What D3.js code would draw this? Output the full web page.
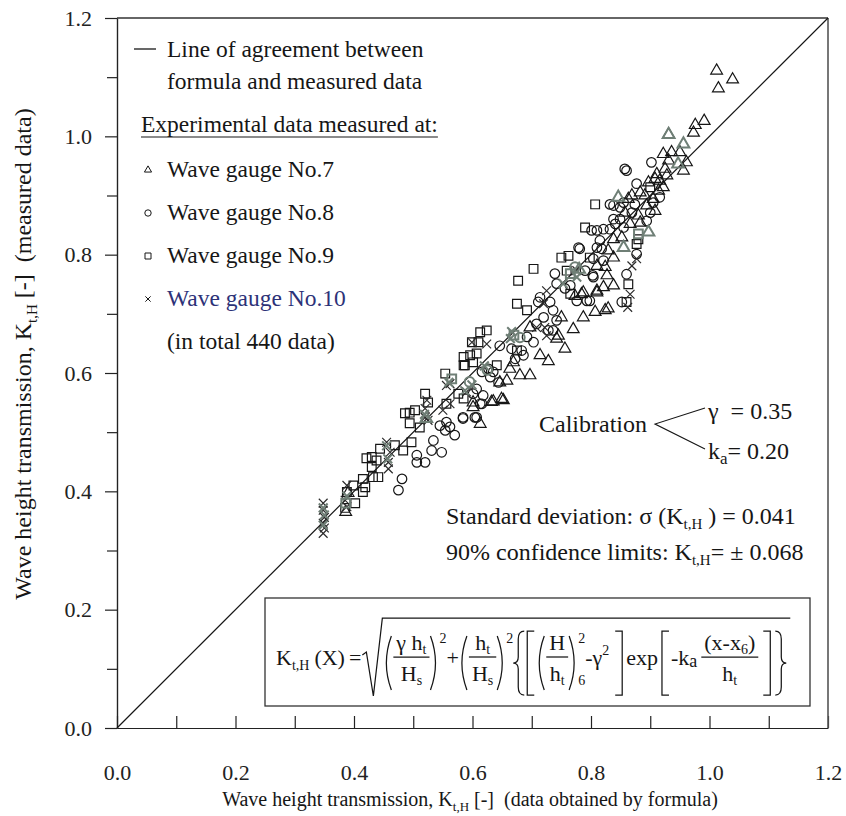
<html>
<head>
    <script src="https://cdnjs.cloudflare.com/ajax/libs/d3/7.8.5/d3.min.js"></script>
    <style>
        body { margin: 0; background: white; }
    </style>
</head>
<body>
<svg id="chart"></svg>
<script>
    // values (x = formula, y = measured)
    let majorTicks = [0.0, 0.2, 0.4, 0.6, 0.8, 1.0, 1.2];
    let minorTicks = [0.1, 0.3, 0.5, 0.7, 0.9, 1.1];

    let gauge7 = [
        [1.012,1.111],[1.039,1.096],[1.015,1.081],[0.991,1.026],[0.976,1.019],[0.973,1.006],[0.931,1.003],
        [0.922,0.970],[0.936,0.973],[0.950,0.973],[0.931,0.959],[0.961,0.956],[0.956,0.942],[0.925,0.945],
        [0.911,0.936],[0.908,0.928],[0.916,0.925],[0.928,0.934],[0.897,0.922],[0.922,0.914],[0.914,0.908],
        [0.905,0.894],[0.891,0.900],[0.883,0.905],[0.869,0.900],[0.863,0.894],[0.894,0.883],[0.908,0.874],
        [0.880,0.866],[0.857,0.871],[0.866,0.852],[0.883,0.854],[0.838,0.826],[0.852,0.829],[0.829,0.807],
        [0.838,0.795],[0.810,0.781],[0.824,0.779],[0.827,0.765],[0.838,0.748],[0.821,0.745],[0.810,0.739],
        [0.784,0.733],[0.773,0.730],[0.829,0.709],[0.787,0.736],[0.810,0.736],[0.750,0.694],[0.787,0.694],
        [0.807,0.703],[0.824,0.706],[0.770,0.674],[0.745,0.663],[0.697,0.677],[0.742,0.658],[0.756,0.641],
        [0.714,0.630],[0.728,0.620],[0.669,0.618],[0.663,0.607],[0.680,0.596],[0.697,0.596],[0.658,0.587],
        [0.635,0.552],[0.649,0.556],[0.601,0.542],[0.613,0.514],[0.632,0.551],[0.652,0.554],[0.646,0.584],
        [0.601,0.550],[0.390,0.397],[0.386,0.365]
    ];
    let gauge8 = [
        [0.902,0.956],[0.860,0.942],[0.857,0.945],[0.877,0.920],[0.916,0.897],[0.855,0.888],[0.838,0.883],
        [0.874,0.885],[0.905,0.888],[0.900,0.871],[0.869,0.871],[0.849,0.860],[0.838,0.860],[0.841,0.852],
        [0.894,0.857],[0.855,0.846],[0.832,0.843],[0.821,0.843],[0.810,0.841],[0.815,0.824],[0.801,0.841],
        [0.832,0.885],[0.849,0.880],[0.781,0.810],[0.818,0.810],[0.877,0.801],[0.821,0.790],[0.804,0.793],
        [0.804,0.762],[0.790,0.773],[0.860,0.767],[0.798,0.722],[0.852,0.720],[0.779,0.812],[0.810,0.812],
        [0.739,0.768],[0.742,0.751],[0.756,0.743],[0.765,0.748],[0.803,0.765],[0.793,0.722],[0.776,0.722],
        [0.714,0.728],[0.711,0.720],[0.731,0.720],[0.736,0.706],[0.736,0.672],[0.692,0.661],[0.703,0.652],
        [0.708,0.683],[0.720,0.694],[0.728,0.672],[0.742,0.689],[0.666,0.641],[0.686,0.630],[0.672,0.624],
        [0.683,0.638],[0.644,0.584],[0.630,0.593],[0.627,0.607],[0.646,0.646],[0.635,0.602],[0.616,0.602],
        [0.607,0.573],[0.618,0.562],[0.613,0.548],[0.584,0.525],[0.607,0.525],[0.601,0.565],[0.604,0.525],
        [0.616,0.548],[0.556,0.517],[0.545,0.511],[0.554,0.503],[0.562,0.509],[0.570,0.495],[0.584,0.523],
        [0.534,0.486],[0.531,0.469],[0.548,0.466],[0.506,0.461],[0.506,0.449],[0.520,0.449],[0.481,0.421],
        [0.475,0.402]
    ];
    let gauge9 = [
        [0.807,0.885],[0.790,0.846],[0.762,0.798],[0.759,0.773],[0.880,0.826],[0.877,0.818],[0.863,0.750],
        [0.860,0.720],[0.900,0.914],[0.750,0.795],[0.798,0.795],[0.703,0.776],[0.677,0.756],[0.765,0.734],
        [0.675,0.717],[0.692,0.706],[0.675,0.638],[0.641,0.613],[0.613,0.669],[0.624,0.672],[0.599,0.652],
        [0.610,0.652],[0.585,0.627],[0.596,0.630],[0.587,0.613],[0.607,0.633],[0.554,0.599],[0.585,0.613],
        [0.601,0.618],[0.576,0.565],[0.585,0.557],[0.520,0.565],[0.525,0.550],[0.486,0.532],[0.494,0.533],
        [0.503,0.537],[0.494,0.515],[0.511,0.508],[0.556,0.548],[0.444,0.472],[0.469,0.478],[0.483,0.469],
        [0.497,0.483],[0.421,0.456],[0.430,0.458],[0.438,0.452],[0.430,0.441],[0.441,0.424],[0.432,0.424],
        [0.415,0.421],[0.419,0.407],[0.415,0.399],[0.388,0.399],[0.402,0.380],[0.399,0.410],[0.385,0.372]
    ];
    let gauge10 = [
        [0.348,0.380],[0.348,0.368],[0.350,0.356],[0.348,0.346],[0.350,0.338],[0.348,0.329],
        [0.388,0.410],[0.385,0.385],[0.388,0.374],[0.455,0.483],[0.461,0.466],[0.458,0.449],[0.458,0.438],
        [0.520,0.525],[0.525,0.520],[0.523,0.554],[0.520,0.540],[0.550,0.537],[0.562,0.582],[0.562,0.548],
        [0.556,0.579],[0.590,0.568],[0.599,0.652],[0.624,0.649],[0.725,0.739],[0.720,0.717],[0.708,0.677],
        [0.722,0.677],[0.725,0.663],[0.776,0.773],[0.877,0.793],[0.869,0.781],[0.866,0.733],[0.862,0.711]
    ];
    // points where markers of several gauges pile up (greyish blobs in the scan): [x, y, gauge index]
    let overlap = [
        [0.348,0.372,3],[0.350,0.360,3],[0.348,0.343,3],[0.388,0.392,3],[0.386,0.380,2],[0.455,0.477,3],
        [0.457,0.455,3],[0.519,0.530,3],[0.522,0.523,0],[0.560,0.584,3],[0.565,0.590,2],[0.599,0.580,3],
        [0.595,0.585,1],[0.587,0.570,3],[0.664,0.658,3],[0.670,0.664,2],[0.680,0.660,1],[0.666,0.670,3],
        [0.753,0.751,3],[0.765,0.768,2],[0.776,0.762,3],[0.773,0.779,1],[0.780,0.775,0],[0.855,0.812,0],
        [0.880,0.835,2],[0.897,0.838,0],[0.846,0.897,0],[0.931,1.003,0],[0.956,0.987,0],[0.947,0.953,0],
        [0.620,0.612,3],[0.625,0.605,1]
    ];

    let gauges = [gauge7, gauge8, gauge9, gauge10];
    let gaugeNames = ["Wave gauge No.7", "Wave gauge No.8", "Wave gauge No.9", "Wave gauge No.10"];

    let serif = "Liberation Serif";
    let width = 846, height = 816;
    let svg = d3.select("#chart").attr("width", width).attr("height", height)
        .attr("font-family", serif);

    let xScale = d3.scaleLinear().domain([0, 1.2]).range([117, 828]);
    let yScale = d3.scaleLinear().domain([0, 1.2]).range([728, 18]);

    let symbolTypes = [d3.symbolTriangle, d3.symbolCircle, d3.symbolSquare, d3.symbolX];
    let symbolSizes = [60, 72, 76, 52];
    let legendSizes = [22, 32, 36, 20];
    let ink = "#161616";

    // ---------- axes ----------
    let fmt = d3.format(".1f");
    svg.append("g")
        .attr("transform", `translate(0,${yScale(0)})`)
        .call(d3.axisBottom(xScale)
            .tickValues(majorTicks.concat(minorTicks))
            .tickSizeInner(-12).tickSizeOuter(0).tickPadding(36)
            .tickFormat(d => majorTicks.includes(d) ? fmt(d) : ""));

    svg.append("g")
        .attr("transform", `translate(${xScale(0)},0)`)
        .call(d3.axisLeft(yScale).tickValues(majorTicks)
            .tickSizeInner(12).tickSizeOuter(0).tickPadding(13).tickFormat(fmt));
    svg.append("g")
        .attr("transform", `translate(${xScale(0)},0)`)
        .call(d3.axisLeft(yScale).tickValues(minorTicks)
            .tickSizeInner(10).tickSizeOuter(0).tickFormat(""));

    svg.selectAll("g").attr("font-family", serif);
    svg.selectAll(".tick text")
        .attr("font-size", 22)
        .attr("fill", "#222");
    svg.selectAll(".tick line, .domain").attr("stroke", "#222").attr("stroke-width", 1.2);

    // frame top and right
    svg.append("line")
        .attr("x1", xScale(0)).attr("x2", xScale(1.2))
        .attr("y1", yScale(1.2)).attr("y2", yScale(1.2))
        .attr("stroke", "#333").attr("stroke-width", 1.3);
    svg.append("line")
        .attr("x1", xScale(1.2)).attr("x2", xScale(1.2))
        .attr("y1", yScale(1.2)).attr("y2", yScale(0))
        .attr("stroke", "#555").attr("stroke-width", 1.6);

    // line of agreement
    svg.append("line")
        .attr("x1", xScale(0)).attr("y1", yScale(0))
        .attr("x2", xScale(1.2)).attr("y2", yScale(1.2))
        .attr("stroke", ink).attr("stroke-width", 1.2);

    // ---------- markers ----------
    let marks = svg.append("g");
    gauges.forEach((pts, gi) => {
        marks.selectAll(".g" + gi)
            .data(pts)
            .enter().append("path")
            .attr("class", "g" + gi)
            .attr("d", d3.symbol().type(symbolTypes[gi]).size(symbolSizes[gi]))
            .attr("transform", d => `translate(${xScale(d[0])},${yScale(d[1])})`)
            .attr("fill", "none")
            .attr("stroke", gi == 3 ? "#2b2b2b" : ink)
            .attr("stroke-width", 1.2);
    });
    marks.selectAll(".ov")
        .data(overlap)
        .enter().append("path")
        .attr("class", "ov")
        .attr("d", d => d3.symbol().type(symbolTypes[d[2]]).size(symbolSizes[d[2]])())
        .attr("transform", d => `translate(${xScale(d[0])},${yScale(d[1])})`)
        .attr("fill", "none")
        .attr("stroke", "#6f7f76")
        .attr("stroke-width", 2);

    // ---------- axis titles ----------
    function titleWithSub(sel, before, sub, after, subSize, shift) {
        sel.append("tspan").text(before);
        sel.append("tspan").attr("dy", shift).attr("font-size", subSize).text(sub);
        sel.append("tspan").attr("dy", -shift).text(after);
    }
    let xt = svg.append("text")
        .attr("x", 470).attr("y", 806)
        .attr("text-anchor", "middle").attr("font-size", 20).attr("fill", ink);
    titleWithSub(xt, "Wave height transmission, K", "t,H", " [-]\u00a0\u00a0(data obtained by formula)", 13, 5);

    let yt = svg.append("text")
        .attr("transform", "translate(31,354) rotate(-90)")
        .attr("text-anchor", "middle").attr("font-size", 24).attr("fill", ink);
    titleWithSub(yt, "Wave height transmission, K", "t,H", " [-]\u00a0\u00a0(measured data)", 15, 6);

    // ---------- legend ----------
    let leg = svg.append("g").attr("font-size", 23.5).attr("fill", ink);
    leg.append("line").attr("x1", 134).attr("x2", 156).attr("y1", 49).attr("y2", 49)
        .attr("stroke", ink).attr("stroke-width", 1.3);
    leg.append("text").attr("x", 167).attr("y", 57).text("Line of agreement between");
    leg.append("text").attr("x", 167).attr("y", 89).text("formula and measured data");
    let exp = leg.append("text").attr("x", 141).attr("y", 132).text("Experimental data measured at:");
    let expW = exp.node().getComputedTextLength();
    leg.append("line").attr("x1", 141).attr("x2", 141 + expW).attr("y1", 137).attr("y2", 137)
        .attr("stroke", ink).attr("stroke-width", 1.1);

    let legendRows = [177, 220, 263, 306];
    gaugeNames.forEach((name, i) => {
        leg.append("path")
            .attr("d", d3.symbol().type(symbolTypes[i]).size(legendSizes[i]))
            .attr("transform", `translate(148,${legendRows[i] - 7})`)
            .attr("fill", "none").attr("stroke", ink).attr("stroke-width", 1);
        leg.append("text").attr("x", 167).attr("y", legendRows[i])
            .attr("fill", i == 3 ? "#2d3278" : ink)
            .text(name);
    });
    leg.append("text").attr("x", 167).attr("y", 349).text("(in total 440 data)");

    // ---------- calibration / statistics ----------
    let ann = svg.append("g").attr("font-size", 24).attr("fill", ink);
    ann.append("text").attr("x", 539).attr("y", 432).text("Calibration");
    ann.append("path").attr("d", "M705,408 L655,424 L705,449")
        .attr("fill", "none").attr("stroke", ink).attr("stroke-width", 1.1);
    ann.append("text").attr("x", 708).attr("y", 419).text("\u03b3\u00a0\u00a0= 0.35");
    let ka = ann.append("text").attr("x", 708).attr("y", 459);
    ka.append("tspan").text("k");
    ka.append("tspan").attr("dy", 5).attr("font-size", 17).text("a");
    ka.append("tspan").attr("dy", -5).text("= 0.20");

    let sd = ann.append("text").attr("x", 446).attr("y", 524);
    sd.append("tspan").text("Standard deviation: \u03c3 (K");
    sd.append("tspan").attr("dy", 5).attr("font-size", 15).text("t,H");
    sd.append("tspan").attr("dy", -5).text(" ) = 0.041");
    let cl = ann.append("text").attr("x", 446).attr("y", 560);
    cl.append("tspan").text("90% confidence limits: K");
    cl.append("tspan").attr("dy", 5).attr("font-size", 15).text("t,H");
    cl.append("tspan").attr("dy", -5).text("= \u00b1 0.068");

    // ---------- formula box ----------
    svg.append("rect").attr("x", 265).attr("y", 598).attr("width", 545).attr("height", 108)
        .attr("fill", "none").attr("stroke", "#333").attr("stroke-width", 1.3);

    let fg = svg.append("g").attr("fill", ink);
    let yb = 665, fs = 22, ss = 14;
    let cx = 276;
    function put(str, x, y, size) {
        let t = fg.append("text").attr("x", x).attr("y", y).attr("font-size", size).text(str);
        return t.node().getComputedTextLength();
    }
    function stroke(d) {
        fg.append("path").attr("d", d).attr("fill", "none").attr("stroke", ink).attr("stroke-width", 1.25);
    }
    function lparen(x, top, bot) { stroke(`M${x + 8},${top} Q${x - 2},${(top + bot) / 2} ${x + 8},${bot}`); return 10; }
    function rparen(x, top, bot) { stroke(`M${x + 1},${top} Q${x + 11},${(top + bot) / 2} ${x + 1},${bot}`); return 10; }
    function lbrack(x, top, bot) { stroke(`M${x + 8},${top} L${x + 1},${top} L${x + 1},${bot} L${x + 8},${bot}`); return 10; }
    function rbrack(x, top, bot) { stroke(`M${x + 1},${top} L${x + 8},${top} L${x + 8},${bot} L${x + 1},${bot}`); return 10; }
    function lbrace(x, top, bot) {
        let m = (top + bot) / 2;
        stroke(`M${x + 11},${top} Q${x + 5},${top} ${x + 5},${top + 8} L${x + 5},${m - 6} Q${x + 5},${m} ${x},${m} Q${x + 5},${m} ${x + 5},${m + 6} L${x + 5},${bot - 8} Q${x + 5},${bot} ${x + 11},${bot}`);
        return 13;
    }
    function rbrace(x, top, bot) {
        let m = (top + bot) / 2;
        stroke(`M${x},${top} Q${x + 6},${top} ${x + 6},${top + 8} L${x + 6},${m - 6} Q${x + 6},${m} ${x + 11},${m} Q${x + 6},${m} ${x + 6},${m + 6} L${x + 6},${bot - 8} Q${x + 6},${bot} ${x},${bot}`);
        return 13;
    }
    function piece(parts, x, y) {
        let w = 0;
        parts.forEach(p => {
            w += put(p[0], x + w, y, fs);
            if (p[1]) w += put(p[1], x + w, y + 4, ss);
        });
        return w;
    }
    function measure(parts) {
        let tmp = fg.append("g").attr("opacity", 0);
        let w = 0;
        parts.forEach(p => {
            let t = tmp.append("text").attr("font-size", fs).text(p[0]);
            w += t.node().getComputedTextLength();
            if (p[1]) { let s = tmp.append("text").attr("font-size", ss).text(p[1]); w += s.node().getComputedTextLength(); }
        });
        tmp.remove();
        return w;
    }
    function frac(num, den, x) {
        let wn = measure(num), wd = measure(den);
        let w = Math.max(wn, wd) + 6;
        piece(num, x + (w - wn) / 2, yb - 15);
        piece(den, x + (w - wd) / 2, yb + 16);
        stroke(`M${x},${yb - 8} L${x + w},${yb - 8}`);
        return w;
    }

    cx += put("K", cx, yb, fs);
    cx += put("t,H", cx, yb + 5, ss);
    cx += 5;
    cx += put("(X)", cx, yb, fs);
    cx += 4;
    cx += put("=", cx, yb, fs);
    cx += 1;
    let rootX = cx;
    cx += 21;
    let pTop = yb - 29, pBot = yb + 25;
    cx += lparen(cx, pTop, pBot);
    cx += frac([["\u03b3 h", "t"]], [["H", "s"]], cx);
    cx += rparen(cx, pTop, pBot);
    cx += put("2", cx, yb - 22, ss);
    cx += put("+", cx, yb, fs);
    cx += lparen(cx, pTop, pBot);
    cx += frac([["h", "t"]], [["H", "s"]], cx);
    cx += rparen(cx, pTop, pBot);
    cx += put("2", cx, yb - 22, ss);
    let bTop = yb - 34, bBot = yb + 30;
    cx += lbrace(cx, bTop, bBot);
    cx += lbrack(cx, bTop, bBot);
    cx += lparen(cx, pTop, pBot);
    cx += frac([["H"]], [["h", "t"]], cx);
    cx += rparen(cx, pTop, pBot);
    put("6", cx, yb + 20, ss);
    cx += put("2", cx, yb - 22, ss);
    cx += put("-\u03b3", cx, yb, fs);
    cx += put("2", cx, yb - 10, ss);
    cx += 5;
    cx += rbrack(cx, bTop, bBot);
    cx += 2;
    cx += put("exp", cx, yb, fs);
    cx += 3;
    cx += lbrack(cx, bTop, bBot);
    cx += put("-k", cx, yb, fs);
    cx += put("a", cx, yb + 2, 18);
    cx += 4;
    cx += frac([["(x-x", "6"], [")"]], [["h", "t"]], cx);
    cx += 4;
    cx += rbrack(cx, bTop, bBot);
    cx += 3;
    cx += rbrace(cx, bTop, bBot);
    // radical sign with overline
    let rTop = yb - 47;
    stroke(`M${rootX},${yb - 10} L${rootX + 4},${yb - 13} L${rootX + 11},${yb + 31} L${rootX + 20},${rTop} L${cx + 2},${rTop}`);
</script>
</body>
</html>
